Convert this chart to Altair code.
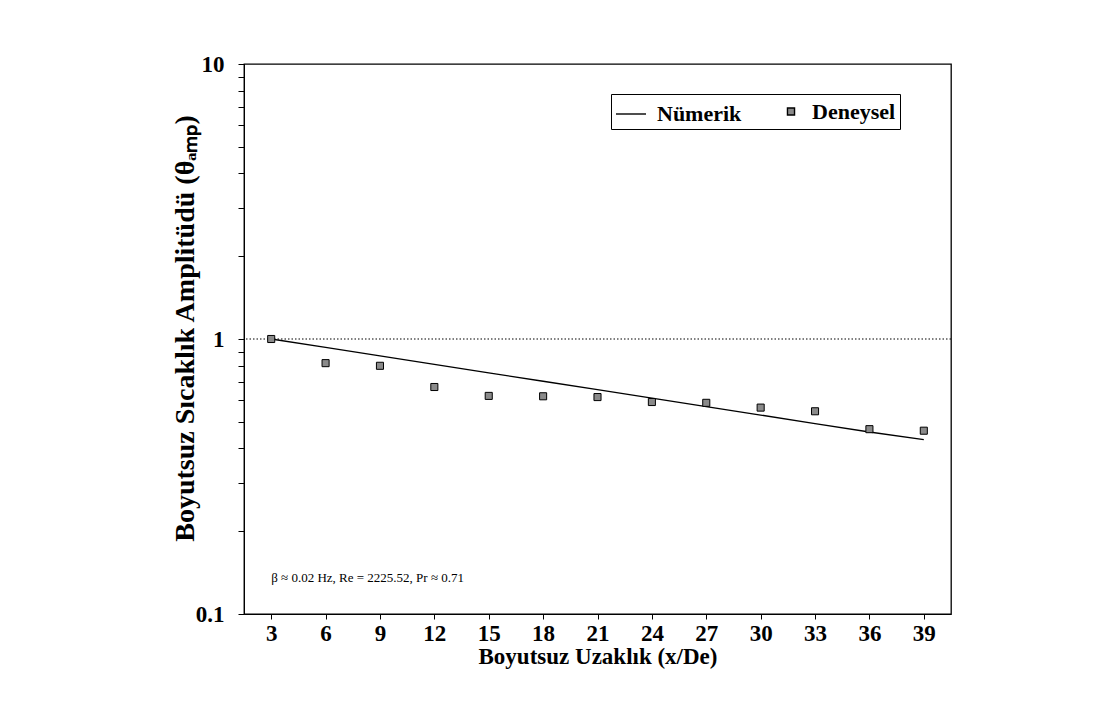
import altair as alt
import pandas as pd

# Numerical solution (line)
x_num = [3, 6, 9, 12, 15, 18, 21, 24, 27, 30, 33, 36, 39]
y_num = [1.0, 0.932, 0.868, 0.809, 0.753, 0.702, 0.654, 0.609, 0.568, 0.529, 0.492, 0.459, 0.431]

# Experimental data (points)
x_exp = [3, 6, 9, 12, 15, 18, 21, 24, 27, 30, 33, 36, 39]
y_exp = [1.0, 0.817, 0.799, 0.669, 0.621, 0.619, 0.615, 0.590, 0.586, 0.563, 0.546, 0.470, 0.464]

series_names = ["Nümerik", "Deneysel"]
x_ticks = [3, 6, 9, 12, 15, 18, 21, 24, 27, 30, 33, 36, 39]
y_ticks = [0.1, 0.2, 0.3, 0.4, 0.5, 0.6, 0.7, 0.8, 0.9, 1, 2, 3, 4, 5, 6, 7, 8, 9, 10]
ref_y = [1]
note_x = [3]
note_y = [0.135]
note_text = ["β ≈ 0.02 Hz, Re = 2225.52, Pr ≈ 0.71"]

df_num = pd.DataFrame({"x": x_num, "y": y_num, "seri": series_names[0]})
df_exp = pd.DataFrame({"x": x_exp, "y": y_exp, "seri": series_names[1]})
df_ref = pd.DataFrame({"y": ref_y})
df_note = pd.DataFrame({"x": note_x, "y": note_y, "t": note_text})

FONT = "Liberation Serif"

x_scale = alt.Scale(domain=[1.5, 40.5], nice=False, zero=False)
y_scale = alt.Scale(type="log", domain=[0.1, 10], nice=False)

x_enc = alt.X(
    "x:Q", scale=x_scale,
    axis=alt.Axis(values=x_ticks, title="Boyutsuz Uzaklık (x/De)", grid=False,
                  labelFont=FONT, labelFontSize=23, labelFontWeight="bold", labelColor="black",
                  titleFont=FONT, titleFontSize=23, titleFontWeight="bold", titleColor="black",
                  tickColor="black", domainColor="black", tickSize=5, labelPadding=3, titlePadding=0,
                  labelFlush=False),
)
y_enc = alt.Y(
    "y:Q", scale=y_scale,
    axis=alt.Axis(values=y_ticks, format="~g",
                  labelExpr="(datum.value == 0.1 || datum.value == 1 || datum.value == 10) ? datum.label : ''",
                  title="Boyutsuz Sıcaklık Amplitüdü (θₐₘₚ)", grid=False,
                  labelFont=FONT, labelFontSize=23, labelFontWeight="bold", labelColor="black",
                  titleFont=FONT, titleFontSize=28, titleFontWeight="bold", titleColor="black",
                  titleAngle=270, titleX=-59, titleY=264, titleAlign="center", titleBaseline="middle",
                  tickColor="black", domainColor="black", tickSize=6, labelPadding=14,
                  labelFlush=False),
)

ref = alt.Chart(df_ref).mark_rule(color="black", strokeDash=[1.5, 2], strokeWidth=1.2).encode(
    y=alt.Y("y:Q", scale=y_scale)
)

line = alt.Chart(df_num).mark_line(color="black", strokeWidth=1.3).encode(x=x_enc, y=y_enc)

leg = alt.Legend(
    title=None, orient="none", legendX=367, legendY=30, direction="horizontal",
    strokeColor="black", fillColor="white", padding=4,
    labelFont=FONT, labelFontSize=22, labelFontWeight="bold", labelColor="black",
    symbolStrokeWidth=1.4,
    columnPadding=38, labelOffset=10,
)

points = alt.Chart(df_exp).mark_point(
    filled=False, fill="#8a8a8a", strokeWidth=1, opacity=1, fillOpacity=1
).encode(
    x=alt.X("x:Q", scale=x_scale),
    y=alt.Y("y:Q", scale=y_scale),
    color=alt.Color("seri:N", scale=alt.Scale(domain=series_names, range=["black", "black"]),
                    legend=leg),
    shape=alt.Shape("seri:N", scale=alt.Scale(domain=series_names, range=["stroke", "square"]),
                    legend=leg),
    size=alt.Size("seri:N", scale=alt.Scale(domain=series_names, range=[900, 50]),
                  legend=leg),
)

note = alt.Chart(df_note).mark_text(
    align="left", baseline="middle", font=FONT, fontSize=13, color="black"
).encode(x=alt.X("x:Q", scale=x_scale), y=alt.Y("y:Q", scale=y_scale), text="t:N")

chart = alt.layer(ref, line, points, note).properties(
    width=707, height=550,
    background="white",
    autosize=alt.AutoSizeParams(type="none"),
    padding={"left": 236, "top": 56, "right": 132, "bottom": 80},
).configure_view(
    stroke="black", strokeWidth=1.3
)

chart.save("out.html", embed_options={"renderer": "svg", "actions": False})
